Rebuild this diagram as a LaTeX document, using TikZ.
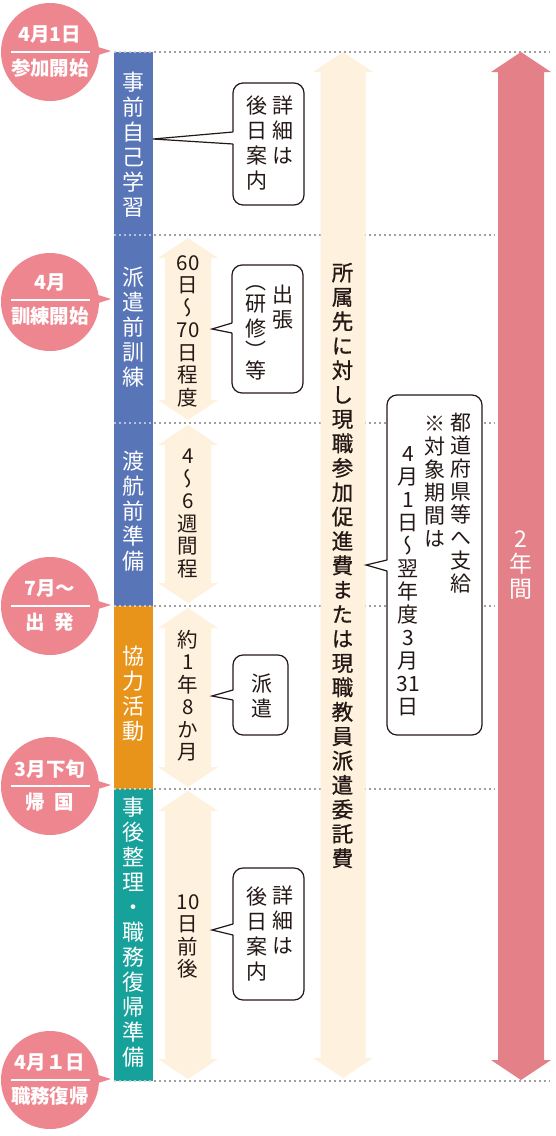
\documentclass[tikz,border=0pt]{standalone}
\usepackage{fontspec}
\usetikzlibrary{calc}
\XeTeXuseglyphmetrics=1
\newfontfamily\jp{Noto Sans CJK JP}
\newfontfamily\jpv[RawFeature=+vert]{Noto Sans CJK JP}
\newfontfamily\jpvb[RawFeature=+vert,FakeBold=0.8]{Noto Sans CJK JP}
\definecolor{barblue}{HTML}{5875B8}
\definecolor{barorange}{HTML}{E8941A}
\definecolor{barteal}{HTML}{16A19B}
\definecolor{pinkc}{HTML}{EE868F}
\definecolor{redarrow}{HTML}{E48088}
\definecolor{cream}{HTML}{FEF1DE}
\definecolor{dotgray}{HTML}{A0A0A0}
\definecolor{ink}{HTML}{231815}
\newcommand\vfnt[2]{\fontsize{#1}{#2}\selectfont\lineskiplimit=-1000pt\lineskip=0pt}
\newcommand\dblarrow[6]{%
  \fill[#6] (#1,#2) -- ({#1+#4},{#2+20}) -- ({#1+#5},{#2+20}) -- ({#1+#5},{#3-20})
   -- ({#1+#4},{#3-20}) -- (#1,#3) -- ({#1-#4},{#3-20}) -- ({#1-#5},{#3-20})
   -- ({#1-#5},{#2+20}) -- ({#1-#4},{#2+20}) -- cycle;}
\newcommand\callptr[4]{%
  \fill[white] (#2) -- ($(#1.north west)+(1.6,#3)$) -- ($(#1.north west)+(1.6,#4)$) -- cycle;
  \draw[ptrline] ($(#1.north west)+(0,#3)$) -- (#2) -- ($(#1.north west)+(0,#4)$);}
\begin{document}
\begin{tikzpicture}[x=1pt,y=-1pt,
  dotline/.style={draw=dotgray, line width=2pt, dash pattern=on 2.2pt off 2.8pt},
  dotover/.style={draw=white, opacity=0.55, line width=2pt, dash pattern=on 2.2pt off 2.8pt},
  bart/.style={align=center, inner sep=0pt, text=white, font=\jpv\vfnt{22}{25}},
  durt/.style={align=center, inner sep=0pt, text=ink, font=\jpv\vfnt{20.5}{22.5}},
  boxt/.style={align=center, inner sep=0pt, text=ink, font=\jpv\vfnt{21}{25}},
  boxtb/.style={align=center, inner sep=0pt, text=ink, font=\jpv\vfnt{21}{23}},
  bigt/.style={align=center, inner sep=0pt, text=ink, font=\jpvb\vfnt{21.5}{24.4}},
  redt/.style={align=center, inner sep=0pt, text=white, font=\jpv\vfnt{23}{25}},
  callout/.style={draw=ink, line width=1.2pt, fill=white, rounded corners=10pt,
    outer sep=0pt, inner sep=0pt, anchor=north west},
  ptrline/.style={draw=ink, line width=1.2pt, line join=miter},
  circ/.style={circle, fill=pinkc, minimum size=98pt, inner sep=0pt},
  ctext/.style={inner sep=0pt, text=white, font=\jp\bfseries\fontsize{19.5}{21}\selectfont},
  sepline/.style={draw=white, line width=2pt}]
\useasboundingbox (0,0) rectangle (556,1136);
\fill[white] (0,0) rectangle (556,1136);

% dotted period lines
\draw[dotline] (114,52) -- (550,52);
\draw[dotline] (114,235) -- (495,235);
\draw[dotline] (114,422.5) -- (495,422.5);
\draw[dotline] (114,606) -- (495,606);
\draw[dotline] (114,789) -- (495,789);
\draw[dotline] (114,1081) -- (550,1081);

% left phase bar
\fill[barblue] (114,52) rectangle (153,606);
\fill[barorange] (114,606) rectangle (153,789);
\fill[barteal] (114,789) rectangle (153,1081);
\foreach \yy in {52,235,422.5,606,789,1081} \draw[dotover] (114,\yy) -- (153,\yy);

% duration arrows
\dblarrow{188}{238}{420}{30}{23}{cream}
\dblarrow{188}{425}{603}{30}{23}{cream}
\dblarrow{188}{608}{787}{30}{23}{cream}
\dblarrow{188}{791}{1079}{30}{23}{cream}
\dblarrow{343}{52}{1078}{30}{22.5}{cream}
\dblarrow{521}{52}{1080}{30}{23}{redarrow}

% callout boxes
\node[callout, minimum width=71pt, minimum height=122pt] (b1) at (233,83) {};
\node[callout, minimum width=71pt, minimum height=128pt] (b2) at (232,265) {};
\node[callout, minimum width=55pt, minimum height=80pt] (b3) at (233,655) {};
\node[callout, minimum width=71pt, minimum height=132pt] (b4) at (233,868) {};
\node[callout, minimum width=95pt, minimum height=340pt] (b5) at (387,395) {};
\coordinate (t1) at (153,139);
\coordinate (t2) at (212,329);
\coordinate (t3) at (212,696);
\coordinate (t4) at (212,930);
\coordinate (t5) at (366,565);
\callptr{b1}{t1}{49}{61}
\callptr{b2}{t2}{58}{68}
\callptr{b3}{t3}{35}{45}
\callptr{b4}{t4}{56}{67}
\callptr{b5}{t5}{165}{176}

% bar texts
\node[bart] (s1) at (133.5,145) {事\\前\\自\\己\\学\\習};
\node[bart] (s2) at (133.5,327) {派\\遣\\前\\訓\\練};
\node[bart] (s3) at (133.5,511) {渡\\航\\前\\準\\備};
\node[bart] (s4) at (133.5,693.5) {協\\力\\活\\動};
\node[bart] (s5) at (133.5,932.5) {事\\後\\整\\理\\・\\職\\務\\復\\帰\\準\\備};

% duration texts
\node[durt] (d1) at (188,331) {60\\日\\〜\\70\\日\\程\\度};
\node[durt] (d2) at (188,513.5) {4\\〜\\6\\週\\間\\程};
\node[durt] (d3) at (188,695.5) {約\\1\\年\\8\\か\\月};
\node[durt] (d4) at (188,936.5) {10\\日\\前\\後};

% callout texts
\node[boxt] (b1r) at (283,130) {詳\\細\\は};
\node[boxt] (b1l) at (257,143.5) {後\\日\\案\\内};
\node[boxt] (b2r) at (283,307.5) {出\\張};
\node[boxt] (b2l) at (256,333) {（\\[-3pt]研\\修\\[-3pt]）\\[-5pt]等};
\node[boxt] (b3t) at (262,695.5) {派\\遣};
\node[boxt] (b4r) at (283,920) {詳\\細\\は};
\node[boxt] (b4l) at (257,934) {後\\日\\案\\内};
\node[boxtb] (b5r) at (461,503) {都\\道\\府\\県\\等\\へ\\支\\給};
\node[boxtb] (b5m) at (435,481.5) {※\\対\\象\\期\\間\\は};
\node[boxtb] (b5l) at (408,581) {4\\月\\1\\日\\〜\\翌\\年\\度\\3\\月\\31\\日};

% long arrows texts
\node[bigt] (bg) at (342.5,565.5) {所\\属\\先\\に\\対\\し\\現\\職\\参\\加\\促\\進\\費\\ま\\た\\は\\現\\職\\教\\員\\派\\遣\\委\\託\\費};
\node[redt] (rt) at (521,565) {2\\年\\間};

% date circles
\foreach \nm/\cy/\sy/\ta/\tb in {c1/52/52/4月1日/参加開始,
   c2/302/300/4月/訓練開始,
   c3/606/606/7月〜/出\hspace{0.5em}発,
   c4/786/786/3月下旬/帰\hspace{0.5em}国,
   c5/1080/1080/4月１日/職務復帰}{
  \node[circ] (\nm) at (50,\cy) {};
  \fill[pinkc] (95,{\sy-6}) -- (111,{\sy-1}) -- (95,{\sy+4}) -- cycle;
  \draw[sepline] (11,\sy) -- (90,\sy);
  \node[ctext] (\nm a) at (50,{\sy-17}) {\ta};
  \node[ctext] (\nm b) at (50,{\sy+16.5}) {\tb};
}
\end{tikzpicture}
\end{document}
